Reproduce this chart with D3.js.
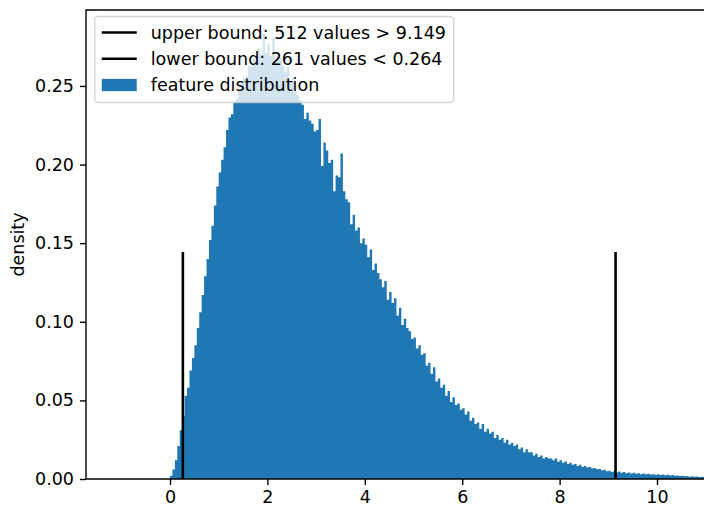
<!DOCTYPE html>
<html>
<head>
<meta charset="utf-8">
<script src="https://cdn.jsdelivr.net/npm/d3@7"></script>
<style>
  body { margin: 0; background: #fff; }
  text { font-family: "DejaVu Sans", sans-serif; }
</style>
</head>
<body>
<div id="chart"></div>
<script>
// histogram bins: start, width, density per bin
const binStart = 0;
const binWidth = 0.05;
const density = [
  // 0 - 1
  0.002, 0.006, 0.012, 0.021, 0.031, 0.040, 0.053, 0.058, 0.069, 0.077, 0.085, 0.096, 0.106, 0.117, 0.129, 0.140, 0.152, 0.161, 0.174, 0.186,
  // 1 - 2
  0.195, 0.203, 0.211, 0.222, 0.230, 0.232, 0.240, 0.242, 0.247, 0.253, 0.255, 0.256, 0.263, 0.262, 0.268, 0.266, 0.274, 0.270, 0.283, 0.271,
  // 2 - 3
  0.277, 0.269, 0.281, 0.266, 0.271, 0.268, 0.263, 0.259, 0.262, 0.253, 0.255, 0.246, 0.244, 0.241, 0.238, 0.229, 0.233, 0.228, 0.226, 0.221,
  // 3 - 4
  0.222, 0.229, 0.199, 0.214, 0.209, 0.201, 0.203, 0.183, 0.193, 0.192, 0.207, 0.183, 0.178, 0.176, 0.162, 0.168, 0.158, 0.160, 0.150, 0.153,
  // 4 - 5
  0.149, 0.141, 0.146, 0.133, 0.137, 0.131, 0.127, 0.122, 0.126, 0.114, 0.119, 0.112, 0.115, 0.104, 0.109, 0.098, 0.102, 0.096, 0.094, 0.089,
  // 5 - 6
  0.090, 0.083, 0.085, 0.079, 0.080, 0.072, 0.074, 0.067, 0.071, 0.062, 0.064, 0.058, 0.060, 0.053, 0.056, 0.049, 0.052, 0.047, 0.048, 0.044,
  // 6 - 7
  0.045, 0.041, 0.043, 0.037, 0.039, 0.035, 0.036, 0.032, 0.035, 0.030, 0.032, 0.029, 0.030, 0.026, 0.028, 0.025, 0.026, 0.023, 0.025, 0.022,
  // 7 - 8
  0.023, 0.021, 0.022, 0.019, 0.020, 0.017, 0.019, 0.017, 0.017, 0.015, 0.016, 0.014, 0.015, 0.013, 0.014, 0.013, 0.013, 0.012, 0.013, 0.011,
  // 8 - 9
  0.0120, 0.0104, 0.0112, 0.0095, 0.0104, 0.0090, 0.0095, 0.0083, 0.0090, 0.0077, 0.0082, 0.0073, 0.0076, 0.0066, 0.0070, 0.0062, 0.0064, 0.0056, 0.0059, 0.0050,
  // 9 - 10
  0.0053, 0.0045, 0.0049, 0.0042, 0.0047, 0.0039, 0.0044, 0.0037, 0.0041, 0.0035, 0.0039, 0.0033, 0.0037, 0.0031, 0.0035, 0.0030, 0.0033, 0.0028, 0.0031, 0.0027,
  // 10 - 11
  0.0030, 0.0026, 0.0028, 0.0024, 0.0027, 0.0022, 0.0025, 0.0020, 0.0023, 0.0019, 0.0021, 0.0017, 0.0019, 0.0015, 0.0017, 0.0014, 0.0016, 0.0013, 0.0014, 0.0012,
];

const bounds = [9.149, 0.264];
const boundHeight = 0.1444;
const legendLabels = [
  "upper bound: 512 values > 9.149",
  "lower bound: 261 values < 0.264",
  "feature distribution",
];
const xTicks = [0, 2, 4, 6, 8, 10];
const yTicks = [0, 0.05, 0.1, 0.15, 0.2, 0.25];

const width = 704;
const height = 506;
const margin = { top: 10, right: 0, bottom: 27, left: 86 };
const barColor = "#1f77b4";
const fontSize = 17.5;

const bins = density.map((d, i) => ({
  x0: binStart + i * binWidth,
  value: d,
}));
// closing edge of the last bin
bins.push({ x0: binStart + density.length * binWidth, value: density[density.length - 1] });

const svg = d3
  .select("#chart")
  .append("svg")
  .attr("width", width)
  .attr("height", height);

const x = d3
  .scaleLinear()
  .domain([-1.725, 10.965])
  .range([margin.left, width - margin.right]);

const y = d3
  .scaleLinear()
  .domain([0, 0.2983])
  .range([height - margin.bottom, margin.top]);

svg
  .append("defs")
  .append("clipPath")
  .attr("id", "plot-clip")
  .append("rect")
  .attr("x", margin.left)
  .attr("y", margin.top)
  .attr("width", width - margin.left - margin.right)
  .attr("height", height - margin.top - margin.bottom);

const plot = svg.append("g").attr("clip-path", "url(#plot-clip)");

// histogram drawn as one step area, so bars don't leave seams
const hist = d3
  .area()
  .curve(d3.curveStepAfter)
  .x((d) => x(d.x0))
  .y0(y(0))
  .y1((d) => y(d.value));

plot.append("path").datum(bins).attr("fill", barColor).attr("d", hist);

// bound lines
plot
  .append("g")
  .selectAll("line")
  .data(bounds)
  .join("line")
  .attr("x1", (d) => x(d))
  .attr("x2", (d) => x(d))
  .attr("y1", y(0))
  .attr("y2", y(boundHeight))
  .attr("stroke", "#000")
  .attr("stroke-width", 2.6);

// axes
const xAxis = (g) =>
  g
    .attr("transform", `translate(0,${height - margin.bottom})`)
    .call(d3.axisBottom(x).tickValues(xTicks).tickFormat(d3.format("d")).tickSize(6).tickPadding(6).tickSizeOuter(0))
    .call((g) => g.select(".domain").remove());

const yAxis = (g) =>
  g
    .attr("transform", `translate(${margin.left},0)`)
    .call(d3.axisLeft(y).tickValues(yTicks).tickFormat(d3.format(".2f")).tickSize(6).tickPadding(6).tickSizeOuter(0))
    .call((g) => g.select(".domain").remove());

svg.append("g").call(xAxis);
svg.append("g").call(yAxis);

svg.selectAll(".tick line").attr("stroke", "#000").attr("stroke-width", 1.4);
svg
  .selectAll(".tick text")
  .attr("fill", "#000")
  .style("font-size", fontSize + "px")
  .style("font-family", '"DejaVu Sans", sans-serif');

// spines
const spines = svg.append("g").attr("stroke", "#000").attr("stroke-width", 1.4).attr("fill", "none");
spines
  .append("path")
  .attr("d", `M${margin.left},${height - margin.bottom}V${margin.top}H${width}`);
spines
  .append("line")
  .attr("x1", margin.left)
  .attr("x2", width)
  .attr("y1", height - margin.bottom)
  .attr("y2", height - margin.bottom);

svg
  .append("text")
  .attr("transform", `translate(24,${(margin.top + height - margin.bottom) / 2}) rotate(-90)`)
  .attr("text-anchor", "middle")
  .style("font-size", fontSize + "px")
  .text("density");

// legend
const legendX = margin.left + 8.75;
const legendY = margin.top + 6.5;
const rowH = 26.25;
const legend = svg.append("g").attr("transform", `translate(${legendX},${legendY})`);

legend
  .append("rect")
  .attr("x", 0)
  .attr("y", 0)
  .attr("width", 359)
  .attr("height", 86)
  .attr("rx", 3.5)
  .attr("fill", "#fff")
  .attr("fill-opacity", 0.8)
  .attr("stroke", "#ccc")
  .attr("stroke-opacity", 0.8)
  .attr("stroke-width", 1.4);

const items = legend
  .selectAll(".legend")
  .data(legendLabels)
  .enter()
  .append("g")
  .attr("transform", (d, i) => `translate(7,${16 + i * rowH})`);

items
  .filter((d, i) => i < 2)
  .append("line")
  .attr("x1", 0)
  .attr("x2", 35)
  .attr("stroke", "#000")
  .attr("stroke-width", 2.6);

items
  .filter((d, i) => i === 2)
  .append("rect")
  .attr("x", 0)
  .attr("y", -6.1)
  .attr("width", 35)
  .attr("height", 12.25)
  .attr("fill", barColor);

items
  .append("text")
  .attr("x", 49)
  .attr("y", 6.3)
  .attr("fill", "#000")
  .style("font-size", fontSize + "px")
  .text((d) => d);
</script>
</body>
</html>
